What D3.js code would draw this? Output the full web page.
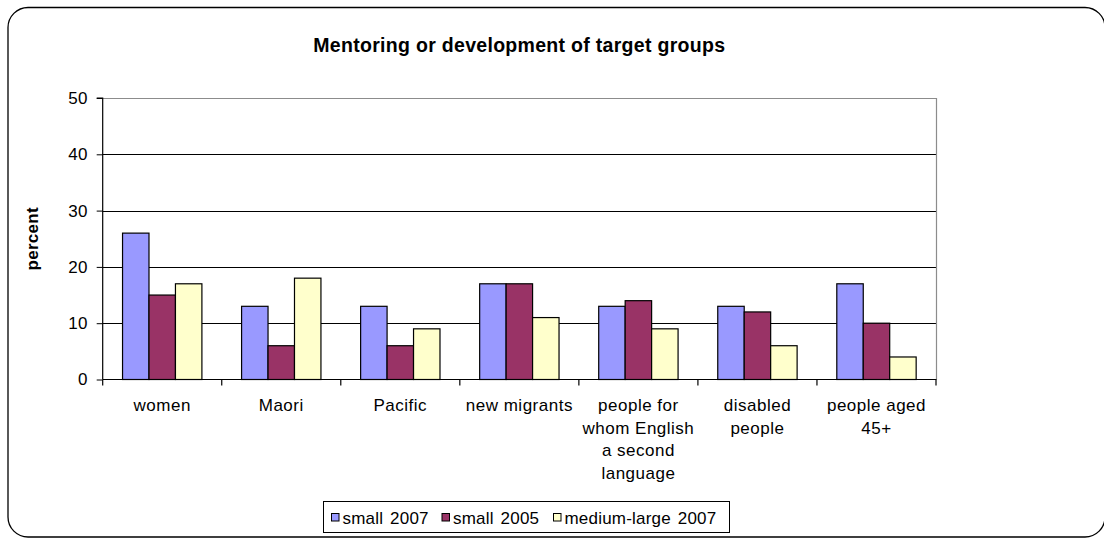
<!DOCTYPE html>
<html>
<head>
<meta charset="utf-8">
<script src="https://cdn.jsdelivr.net/npm/d3@7"></script>
<style>
  html, body { margin: 0; padding: 0; background: #fff; }
  svg { display: block; font-family: "Liberation Sans", Arial, sans-serif; }
</style>
</head>
<body>
<svg id="chart" width="1104" height="538"></svg>
<script>
// Chart data
const title = "Mentoring or development of target groups";
const yTitle = "percent";
const categories = ["women", "Maori", "Pacific", "new migrants",
  "people for whom English a second language", "disabled people", "people aged 45+"];
const seriesNames = ["small 2007", "small 2005", "medium-large 2007"];
const small2007 = [26, 13, 13, 17, 13, 13, 17];
const small2005 = [15, 6, 6, 17, 14, 12, 10];
const mediumLarge2007 = [17, 18, 9, 11, 9, 6, 4];
const yTicks = [0, 10, 20, 30, 40, 50];
const colors = ["#9999FF", "#993366", "#FFFFCC"];

const seriesValues = [small2007, small2005, mediumLarge2007];

const svg = d3.select("#chart");

// Outer rounded frame
svg.append("rect")
  .attr("x", 8).attr("y", 7.5)
  .attr("width", 1097).attr("height", 529.5)
  .attr("rx", 20).attr("ry", 20)
  .attr("fill", "#fff").attr("stroke", "#000").attr("stroke-width", 1.3);

const plot = { left: 102.7, right: 936, top: 98, bottom: 379.5 };

const x = d3.scaleBand().domain(categories).range([plot.left, plot.right]).padding(0);
const xs = d3.scaleBand().domain(seriesNames).range([0, x.bandwidth()])
  .paddingInner(0).paddingOuter(0.75);
const y = d3.scaleLinear().domain([0, 50]).range([plot.bottom, plot.top]);

// Gridlines
svg.append("g").selectAll("line")
  .data(yTicks.filter(t => t > 0 && t < 50))
  .join("line")
  .attr("x1", plot.left).attr("x2", plot.right)
  .attr("y1", d => Math.round(y(d)) + 0.5).attr("y2", d => Math.round(y(d)) + 0.5)
  .attr("stroke", "#000").attr("stroke-width", 1);

// Plot area border (top and right in grey)
svg.append("path")
  .attr("d", `M${plot.left},${Math.round(plot.top) + 0.5}H${plot.right + 0.5}V${plot.bottom}`)
  .attr("fill", "none").attr("stroke", "#8c8c8c").attr("stroke-width", 1.2);

// Bars
const groups = svg.append("g").selectAll("g")
  .data(seriesNames)
  .join("g")
  .attr("fill", (d, i) => colors[i]);

groups.selectAll("rect")
  .data((s, si) => categories.map((c, ci) => ({ c, s, v: seriesValues[si][ci] })))
  .join("rect")
  .attr("x", d => x(d.c) + xs(d.s))
  .attr("y", d => y(d.v))
  .attr("width", xs.bandwidth())
  .attr("height", d => y(0) - y(d.v))
  .attr("stroke", "#000").attr("stroke-width", 1.2);

// Y axis
const yAxis = d3.axisLeft(y).tickValues(yTicks).tickSize(6).tickPadding(9);
const gy = svg.append("g")
  .attr("transform", `translate(${plot.left},0)`)
  .call(yAxis);
gy.select(".domain").attr("stroke", "#000").attr("stroke-width", 1.2).attr("d", `M-6,${plot.top}H0V${plot.bottom}`);
gy.selectAll(".tick line").attr("stroke", "#000");
gy.selectAll(".tick text")
  .attr("font-size", 17).attr("fill", "#000")
  .attr("letter-spacing", 0.3)
  .attr("font-family", "Liberation Sans, Arial, sans-serif");

// X axis with ticks at category boundaries
const gx = svg.append("g").attr("transform", `translate(0,${plot.bottom})`);
gx.append("line")
  .attr("x1", plot.left).attr("x2", plot.right + 0.5)
  .attr("y1", 0).attr("y2", 0)
  .attr("stroke", "#000").attr("stroke-width", 1.2);
const boundaries = categories.map(c => x(c)).concat([plot.right]);
gx.selectAll("line.tick")
  .data(boundaries)
  .join("line")
  .attr("class", "tick")
  .attr("x1", d => d).attr("x2", d => d)
  .attr("y1", 0).attr("y2", 6)
  .attr("stroke", "#000").attr("stroke-width", 1.2);

// Category labels, wrapped to fit the category width
const measure = svg.append("text").attr("font-size", 17).attr("letter-spacing", 0.5).attr("visibility", "hidden");
function wrap(str, maxW) {
  const words = str.split(" ");
  const lines = [];
  let cur = "";
  words.forEach(w => {
    const test = cur ? cur + " " + w : w;
    measure.text(test);
    if (cur && measure.node().getComputedTextLength() > maxW) {
      lines.push(cur);
      cur = w;
    } else {
      cur = test;
    }
  });
  if (cur) lines.push(cur);
  return lines;
}
categories.forEach(c => {
  const lines = wrap(c, 114);
  const t = svg.append("text")
    .attr("text-anchor", "middle")
    .attr("font-size", 17)
    .attr("letter-spacing", 0.5)
    .attr("fill", "#000");
  lines.forEach((ln, i) => {
    t.append("tspan")
      .attr("x", x(c) + x.bandwidth() / 2)
      .attr("y", 411 + i * 22.7)
      .text(ln);
  });
});
measure.remove();

// Title
svg.append("text")
  .attr("x", (plot.left + plot.right) / 2)
  .attr("y", 52)
  .attr("text-anchor", "middle")
  .attr("font-size", 19.5)
  .attr("font-weight", "bold")
  .attr("letter-spacing", 0.3)
  .text(title);

// Y axis title
svg.append("text")
  .attr("transform", `translate(37.5,${(plot.top + plot.bottom) / 2}) rotate(-90)`)
  .attr("text-anchor", "middle")
  .attr("font-size", 17)
  .attr("font-weight", "bold")
  .attr("letter-spacing", 0.3)
  .text(yTitle);

// Legend
const legend = svg.append("g");
legend.append("rect")
  .attr("x", 323.5).attr("y", 501.5)
  .attr("width", 406).attr("height", 31)
  .attr("fill", "#fff").attr("stroke", "#000").attr("stroke-width", 1);
const legendX = [331, 441.5, 553];
seriesNames.forEach((s, i) => {
  legend.append("rect")
    .attr("x", legendX[i] + 0.5).attr("y", 513.5)
    .attr("width", 7.5).attr("height", 7.5)
    .attr("fill", colors[i]).attr("stroke", "#000").attr("stroke-width", 1);
  legend.append("text")
    .attr("x", legendX[i] + 11.5).attr("y", 523.5)
    .attr("font-size", 17)
    .attr("letter-spacing", 0.2)
    .attr("word-spacing", 2)
    .text(s);
});
</script>
</body>
</html>
